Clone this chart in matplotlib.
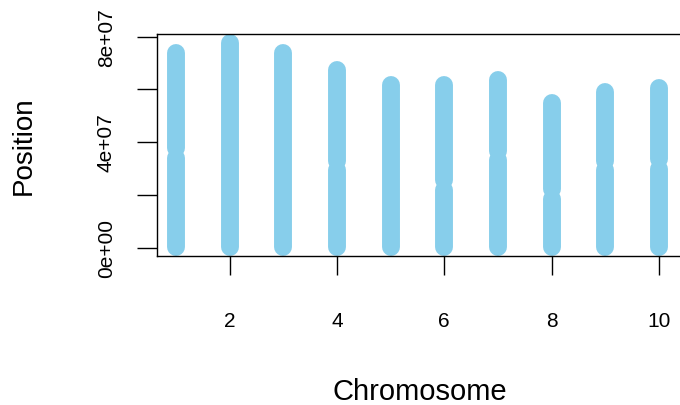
import matplotlib.pyplot as plt

plt.rcParams["font.family"] = ["Liberation Sans", "DejaVu Sans"]

# Marker coverage per chromosome: (start, end) stretches of positions in bp
chromosomes = [1, 2, 3, 4, 5, 6, 7, 8, 9, 10]
covered = {
    1: [(1.0e5, 3.40e7), (3.76e7, 7.36e7)],
    2: [(1.0e5, 7.74e7)],
    3: [(1.0e5, 7.38e7)],
    4: [(1.0e5, 2.92e7), (3.28e7, 6.73e7)],
    5: [(1.0e5, 6.18e7)],
    6: [(1.0e5, 2.19e7), (2.55e7, 6.16e7)],
    7: [(1.0e5, 3.30e7), (3.66e7, 6.35e7)],
    8: [(1.0e5, 1.85e7), (2.21e7, 5.49e7)],
    9: [(1.0e5, 2.92e7), (3.28e7, 5.90e7)],
    10: [(1.0e5, 2.99e7), (3.35e7, 6.03e7)],
}
x_ticks = [2, 4, 6, 8, 10]
y_ticks = [0, 2e7, 4e7, 6e7, 8e7]
y_tick_labels = ["0e+00", "", "4e+07", "", "8e+07"]

W, H = 680, 406
fig = plt.figure(figsize=(W / 100, H / 100), dpi=100)
# plot box in pixels: left 156.5, right 684 (runs past the edge), top 35, bottom 257
ax = fig.add_axes([156.5 / W, (H - 257) / H, (684 - 156.5) / W, (257 - 35) / H])

for c in chromosomes:
    for start, end in covered[c]:
        ax.plot([c, c], [start, end], color="#87CEEB", lw=12.9,
                solid_capstyle="round", zorder=2)

ax.set_xlim(0.64, 10.465)
ax.set_ylim(-3.22e6, 8.095e7)

ax.set_xticks(x_ticks)
ax.set_xticklabels([str(t) for t in x_ticks], fontsize=15)
ax.set_yticks(y_ticks)
ax.set_yticklabels(y_tick_labels, fontsize=15, rotation=90, va="center")
ax.tick_params(axis="x", length=14, width=1, pad=25.5)
ax.tick_params(axis="y", length=14.4, width=1, pad=14.8)

for side in ["left", "bottom", "top", "right"]:
    ax.spines[side].set_linewidth(1)

fig.text(420 / W, 6.2 / H, "Chromosome", fontsize=21, ha="center", va="baseline")
fig.text(23.4 / W, (H - 146) / H, "Position", fontsize=20, rotation=90,
         ha="center", va="center")

fig.savefig("out.png", dpi=100)
